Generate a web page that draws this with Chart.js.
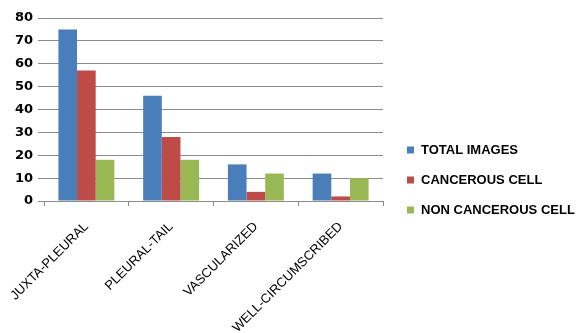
<!DOCTYPE html>
<html>
<head>
<meta charset="utf-8">
<script src="https://cdn.jsdelivr.net/npm/chart.js@4"></script>
<style>
html,body{margin:0;padding:0;background:#fff;}
#c{display:block;}
</style>
</head>
<body>
<canvas id="c" width="578" height="333"></canvas>
<script>
const categories = ["JUXTA-PLEURAL", "PLEURAL-TAIL", "VASCULARIZED", "WELL-CIRCUMSCRIBED"];
const totalImages = [75, 46, 16, 12];
const cancerousCell = [57, 28, 4, 2];
const nonCancerousCell = [18, 18, 12, 10];
const yTicks = [0, 10, 20, 30, 40, 50, 60, 70, 80];

const gridColor = '#8c8c8c';

// Legend drawn at the right side (text taken from the datasets)
const sideLegend = {
  id: 'sideLegend',
  afterDraw(chart) {
    const ctx = chart.ctx;
    ctx.save();
    ctx.font = 'bold 13px "Liberation Sans", Arial, sans-serif';
    ctx.textBaseline = 'middle';
    ctx.textAlign = 'left';
    const x0 = 407, y0 = 150, step = 30;
    chart.data.datasets.forEach((ds, i) => {
      const y = y0 + i * step;
      ctx.fillStyle = ds.backgroundColor;
      ctx.fillRect(x0, y - 3.5, 7, 7);
      ctx.fillStyle = '#000';
      ctx.fillText(ds.label, x0 + 14, y + 0.5, 156);
    });
    ctx.restore();
  }
};

new Chart(document.getElementById('c'), {
  type: 'bar',
  data: {
    labels: categories,
    datasets: [
      { label: 'TOTAL IMAGES', data: totalImages, backgroundColor: '#4a7ebb' },
      { label: 'CANCEROUS CELL', data: cancerousCell, backgroundColor: '#be4b48' },
      { label: 'NON CANCEROUS CELL', data: nonCancerousCell, backgroundColor: '#98b954' }
    ]
  },
  plugins: [sideLegend],
  options: {
    responsive: false,
    animation: false,
    layout: { padding: { top: 18, left: 0, right: 195, bottom: 0 } },
    datasets: { bar: { barPercentage: 1.0, categoryPercentage: 0.66 } },
    plugins: {
      tooltip: { enabled: false },
      legend: { display: false }
    },
    scales: {
      x: {
        afterFit: (axis) => { axis.height = 132; axis.paddingLeft = 0; axis.paddingRight = 0; },
        grid: { display: true, drawOnChartArea: false, drawTicks: true, tickLength: 5, color: gridColor, offset: true },
        border: { display: true, color: gridColor },
        ticks: {
          color: '#000',
          maxRotation: 45,
          minRotation: 45,
          padding: 13,
          font: { family: '"Liberation Sans", Arial, sans-serif', size: 13 }
        }
      },
      y: {
        min: 0,
        max: 80,
        afterFit: (axis) => { axis.width = 44; axis.paddingTop = 0; axis.paddingBottom = 0; },
        afterBuildTicks: (axis) => { axis.ticks = yTicks.map(v => ({ value: v })); },
        grid: { color: gridColor, drawTicks: true, tickLength: 6 },
        border: { display: false },
        ticks: {
          color: '#000',
          padding: 5,
          font: { family: '"DejaVu Sans", Verdana, sans-serif', size: 13, weight: 'bold' }
        }
      }
    }
  }
});
</script>
</body>
</html>
